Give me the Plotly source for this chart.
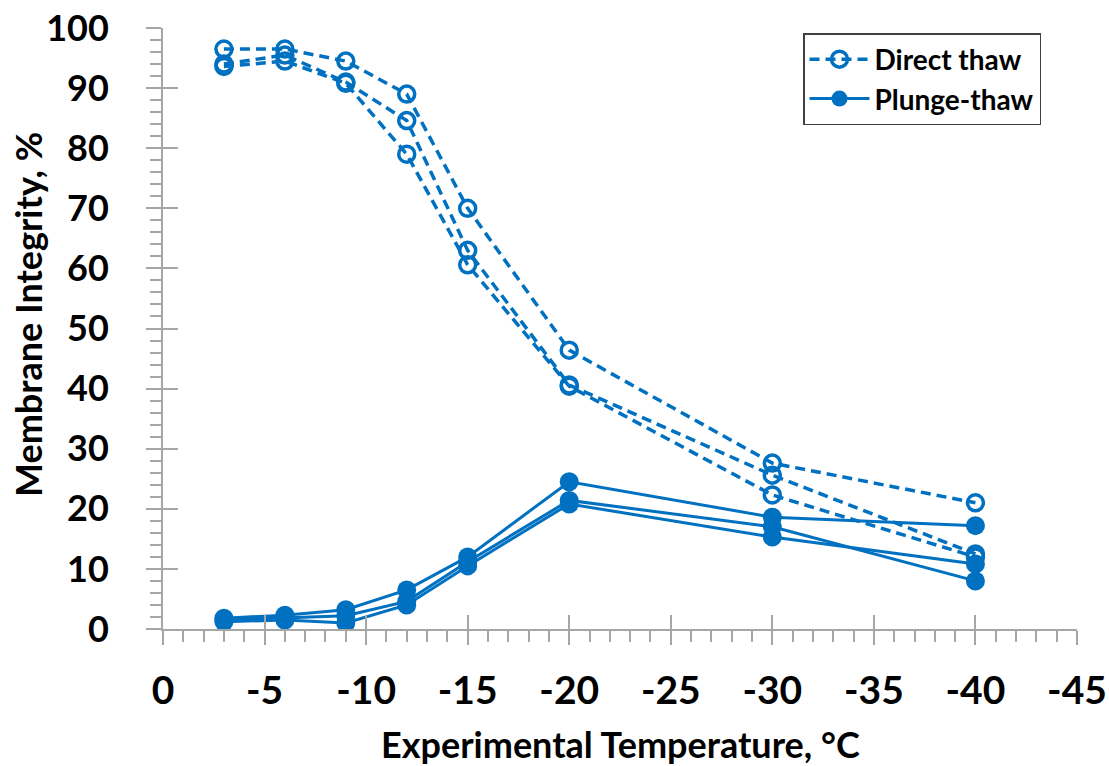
import plotly.graph_objects as go

# Experimental temperatures (°C)
temperatures = [-3, -6, -9, -12, -15, -20, -30, -40]

# Membrane integrity (%) – direct thaw, three replicates
direct_1 = [96.5, 96.5, 94.5, 89.0, 70.0, 46.4, 27.6, 21.0]
direct_2 = [94.0, 95.5, 91.0, 84.6, 63.0, 40.6, 25.6, 12.5]
direct_3 = [93.6, 94.5, 90.8, 79.0, 60.6, 40.4, 22.3, 12.0]

# Membrane integrity (%) – plunge-thaw, three replicates
plunge_1 = [1.8, 2.3, 3.2, 6.5, 12.0, 24.5, 18.6, 17.2]
plunge_2 = [1.5, 1.8, 2.2, 4.6, 11.2, 21.4, 17.0, 8.0]
plunge_3 = [1.2, 1.5, 1.0, 4.0, 10.5, 20.8, 15.3, 10.8]

x_tickvals = [0, -5, -10, -15, -20, -25, -30, -35, -40, -45]
x_ticktext = ["0", "-5", "-10", "-15", "-20", "-25", "-30", "-35", "-40", "-45"]
y_tickvals = [0, 10, 20, 30, 40, 50, 60, 70, 80, 90, 100]

BLUE = "#0070C0"
AXIS_GRAY = "#A6A6A6"
FONT = "Lato"

# plot-area geometry (pixels)
W, H = 1109, 766
L, R, T, B = 163, 32, 28, 137
PW, PH = W - L - R, H - T - B

fig = go.Figure()

for i, series in enumerate([direct_1, direct_2, direct_3]):
    fig.add_trace(go.Scatter(
        x=temperatures, y=series, mode="lines+markers",
        name="Direct thaw", legendgroup="direct", showlegend=(i == 0),
        line=dict(color=BLUE, width=3.5, dash="10px,6px"),
        marker=dict(symbol="circle-open", size=16, color=BLUE,
                    line=dict(width=3.5, color=BLUE)),
    ))

for i, series in enumerate([plunge_1, plunge_2, plunge_3]):
    fig.add_trace(go.Scatter(
        x=temperatures, y=series, mode="lines+markers",
        name="Plunge-thaw", legendgroup="plunge", showlegend=(i == 0),
        line=dict(color=BLUE, width=3),
        marker=dict(symbol="circle", size=19, color=BLUE),
    ))

# empty trace so the overlay axes (inner half of the major ticks) get drawn
fig.add_trace(go.Scatter(x=[], y=[], xaxis="x2", yaxis="y2",
                         showlegend=False, hoverinfo="skip"))

x_tick_font = dict(family=FONT, size=39, color="black", weight="bold")
y_tick_font = dict(family=FONT, size=36, color="black", weight="bold")
title_font = dict(family=FONT, size=36, color="black", weight="bold")

fig.update_layout(
    width=W, height=H,
    margin=dict(l=L, r=R, t=T, b=B, autoexpand=False),
    paper_bgcolor="white", plot_bgcolor="white",
    xaxis=dict(
        range=[0, -45], tickmode="array", tickvals=x_tickvals, ticktext=x_ticktext,
        ticks="outside", ticklen=14, tickwidth=1.5, tickcolor=AXIS_GRAY,
        minor=dict(ticks="outside", dtick=1, ticklen=11, tickwidth=1.5, tickcolor=AXIS_GRAY),
        showline=True, linecolor=AXIS_GRAY, linewidth=2,
        showgrid=False, zeroline=False, automargin=False,
        tickfont=x_tick_font, ticklabelstandoff=12,
    ),
    yaxis=dict(
        range=[0, 100], tickmode="array", tickvals=y_tickvals,
        ticks="outside", ticklen=15, tickwidth=1.5, tickcolor=AXIS_GRAY,
        minor=dict(ticks="outside", dtick=2, ticklen=11, tickwidth=1.5, tickcolor=AXIS_GRAY),
        showline=True, linecolor=AXIS_GRAY, linewidth=2,
        showgrid=False, zeroline=False, automargin=False,
        tickfont=y_tick_font, ticklabelstandoff=30,
    ),
    xaxis2=dict(
        overlaying="x", anchor="y2", range=[0, -45], tickmode="array", tickvals=x_tickvals,
        ticks="inside", ticklen=14, tickwidth=1.5, tickcolor=AXIS_GRAY,
        showticklabels=False, showline=False, showgrid=False, zeroline=False,
    ),
    yaxis2=dict(
        overlaying="y", anchor="x2", range=[0, 100], tickmode="array", tickvals=y_tickvals,
        ticks="inside", ticklen=15, tickwidth=1.5, tickcolor=AXIS_GRAY,
        showticklabels=False, showline=False, showgrid=False, zeroline=False,
    ),
    legend=dict(
        x=(803 - L) / PW, y=(H - B - 33) / PH, xanchor="left", yanchor="top",
        bgcolor="white", bordercolor="#404040", borderwidth=1.5,
        font=dict(family=FONT, size=28, color="black", weight="bold"),
        itemwidth=60, tracegroupgap=0,
        entrywidth=255, entrywidthmode="pixels",
    ),
    annotations=[
        dict(text="Experimental Temperature, °C", xref="paper", yref="paper",
             x=0.5, y=-(744 - (H - B)) / PH, xanchor="center", yanchor="middle",
             showarrow=False, font=title_font),
        dict(text="Membrane Integrity, %", xref="paper", yref="paper", textangle=-90,
             x=(28 - L) / PW, y=(H - B - 315) / PH, xanchor="center", yanchor="middle",
             showarrow=False, font=title_font),
    ],
)

fig.write_html("out.html")
